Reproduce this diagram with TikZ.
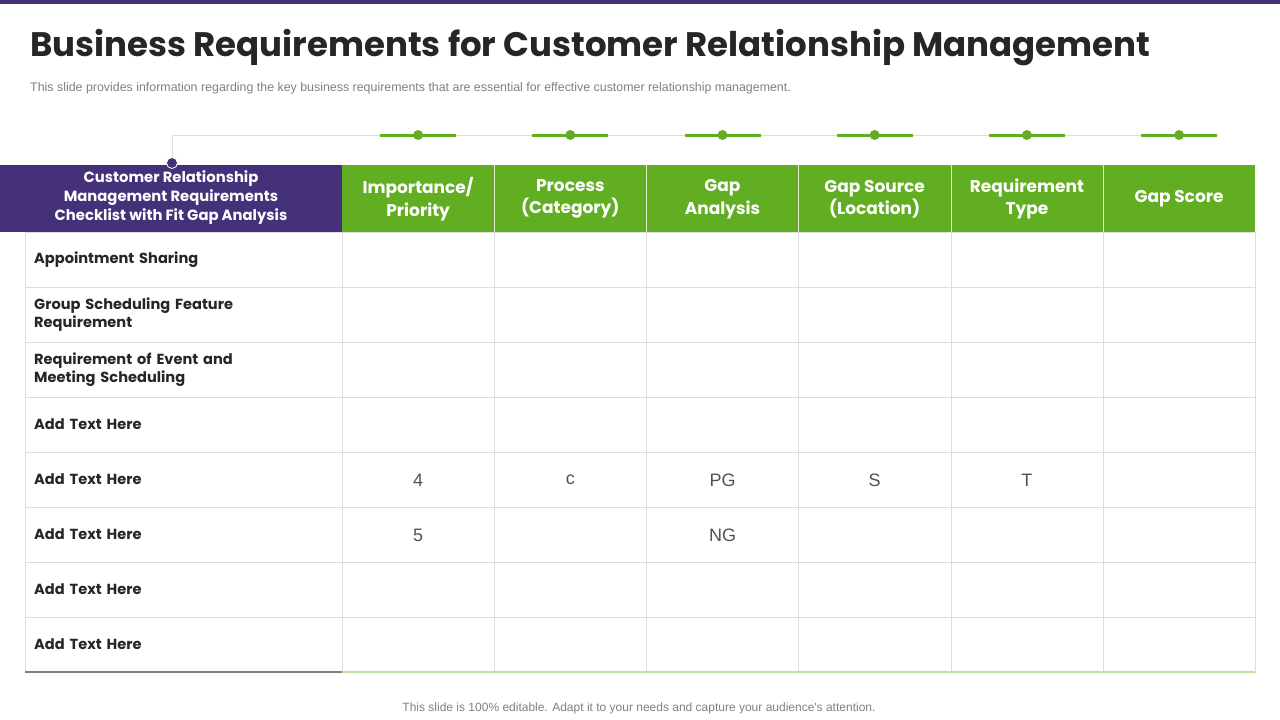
\documentclass[tikz,border=0pt]{standalone}
\usepackage{fontspec}
\setmainfont{Poppins}
\newfontfamily\plainfont{Liberation Sans}
\definecolor{crmpurple}{HTML}{45307A}
\definecolor{crmgreen}{HTML}{62AE23}
\definecolor{crmgrid}{HTML}{DDDDDD}
\definecolor{crmtext}{HTML}{262626}
\tikzset{rowlabel/.style={anchor=west,align=left,text=crmtext,font=\fontsize{14.6}{18.5}\selectfont\bfseries,text width=280pt,inner sep=0pt},
	headtext/.style={text=white,align=center,font=\fontsize{17}{22.5}\selectfont\bfseries},
	val/.style={text=crmtext!80,font=\plainfont\fontsize{18}{20}\selectfont}}
\begin{document}
\begin{tikzpicture}[x=1pt,y=-1pt]
	\useasboundingbox (0,0) rectangle (1280,720);
	\fill[crmpurple] (0,0) rectangle (1280,4);

	\node[anchor=west,text=crmtext,font=\fontsize{34}{38}\selectfont\bfseries,inner sep=0pt] (title) at (30,48) {Business Requirements for Customer Relationship Management};
	\node[anchor=west,text=gray,font=\plainfont\fontsize{12.4}{14}\selectfont,inner sep=0pt] (sub) at (30,88) {This slide provides information regarding the key business requirements that are essential for effective customer relationship management.};

	% timeline
	\coordinate (tl) at (172,135);
	\draw[crmgrid,thick] (172,163) -- (tl) -- (1218,135);

	% header
	\fill[crmpurple] (0,165) rectangle (342,232);
	\node[headtext,font=\fontsize{14.8}{19}\selectfont\bfseries] (h0) at (171,198) {Customer Relationship\\Management Requirements\\Checklist with Fit Gap Analysis};
	\foreach \t [count=\i] in {Importance/\\Priority,Process\\(Category),Gap\\Analysis,Gap Source\\(Location),Requirement\\Type,Gap Score}{
		\pgfmathsetmacro\cx{342+152.2*(\i-0.5)}
		\fill[crmgreen] (\cx-76.1,165) rectangle (\cx+76.1,232);
		\node[headtext] (h\i) at (\cx,199) {\t};
		\draw[crmgreen,line width=3pt] (\cx-38,135) -- (\cx+38,135);
		\fill[crmgreen] (\cx,135) circle (5);
	}
	\foreach \i in {1,...,5}
		\draw[white!80!crmgreen] ({342+152.2*\i},165) -- ({342+152.2*\i},232);
	\filldraw[fill=crmpurple,draw=white,thick] (172,163) circle (5.5);

	% table body
	\foreach \r [count=\j] in {Appointment Sharing,Group Scheduling Feature\\Requirement,Requirement of Event and\\Meeting Scheduling,Add Text Here,Add Text Here,Add Text Here,Add Text Here,Add Text Here}{
		\pgfmathsetmacro\cy{232+55*(\j-0.5)}
		\draw[crmgrid] (25,\cy-27.5) rectangle (342,\cy+27.5);
		\node[rowlabel] (r\j) at (34,\cy) {\r};
		\foreach \i in {1,...,6}
			\draw[crmgrid] ({342+152.2*(\i-1)},\cy-27.5) rectangle ({342+152.2*\i},\cy+27.5);
	}
	\draw[gray,line width=1.5pt] (25,672) -- (342,672);
	\draw[crmgreen!40,line width=1.5pt] (342,672) -- (1255,672);

	% values
	\foreach \i/\v in {1/4,2/c,3/PG,4/S,5/T}
		\node[val] (v5\i) at ({342+152.2*(\i-0.5)},480) {\v};
	\node[val] (v61) at ({342+152.2*0.5},535) {5};
	\node[val] (v63) at ({342+152.2*2.5},535) {NG};

	\node[text=gray,font=\plainfont\fontsize{12}{14}\selectfont] (foot) at (639,708) {This slide is 100\% editable. Adapt it to your needs and capture your audience's attention.};
\end{tikzpicture}
\end{document}
